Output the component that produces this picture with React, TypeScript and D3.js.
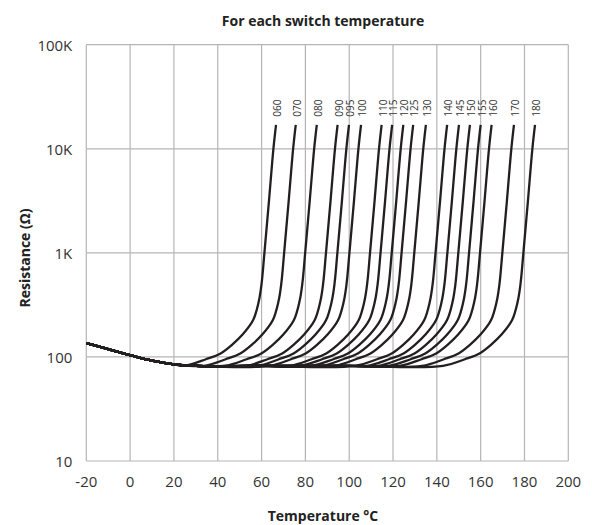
import { useEffect, useRef } from 'react';
import * as d3 from 'd3';

const WIDTH = 592;
const HEIGHT = 525;
const MARGIN = { top: 44.7, right: 23.7, bottom: 64, left: 86.3 };

// switch temperature labels and the temperature at the top end of each curve
const SWITCH_LABELS = ['060', '070', '080', '090', '095', '100', '110', '115', '120', '125', '130', '140', '145', '150', '155', '160', '170', '180'];
const TOP_TEMPS = [66.6, 75.6, 85.2, 94.7, 99.9, 105.4, 114.8, 119.6, 124.7, 129.2, 135.0, 144.7, 150.1, 155.1, 160.0, 165.0, 175.2, 184.8];

// common low-temperature part (temperature, ohm)
const BASE_T = [-20, -10, 0, 10, 20, 30, 60, 100, 140, 180];
const BASE_R = [136, 119, 104, 92, 85, 82, 82, 82, 82, 82];

// rise of each curve, measured back from its top end (deg offset, ohm)
const RISE_DT = [-42, -32, -25.3, -19.5, -15.5, -10.5, -7.9, -6.6, -5.3, -3.2, -1.2, 0];
const RISE_R = [82, 95, 108, 134, 162, 225, 340, 505, 1000, 3200, 10000, 17000];

const X_TICKS = [-20, 0, 20, 40, 60, 80, 100, 120, 140, 160, 180, 200];
const Y_TICKS = [10, 100, 1000, 10000, 100000];
const Y_TICK_LABELS = ['10', '100', '1K', '10K', '100K'];

const FONT = '"Open Sans", "Noto Sans", sans-serif';

export default function App() {
  const svgRef = useRef<SVGSVGElement>(null);
  const boundsWidth = WIDTH - MARGIN.left - MARGIN.right;
  const boundsHeight = HEIGHT - MARGIN.top - MARGIN.bottom;

  useEffect(() => {
    if (!svgRef.current) return;
    const svg = d3.select(svgRef.current);
    svg.selectAll('*').remove();

    const xScale = d3.scaleLinear().domain([-20, 200]).range([0, boundsWidth]);
    const yScale = d3.scaleLog().domain([10, 100000]).range([boundsHeight, 0]);

    const g = svg.append('g').attr('transform', `translate(${MARGIN.left}, ${MARGIN.top})`);

    // grid
    g.selectAll('.vgrid')
      .data(X_TICKS)
      .join('line')
      .attr('x1', d => xScale(d))
      .attr('x2', d => xScale(d))
      .attr('y1', 0)
      .attr('y2', boundsHeight)
      .attr('stroke', '#b5b5b5')
      .attr('stroke-width', 1.2);

    g.selectAll('.hgrid')
      .data(Y_TICKS)
      .join('line')
      .attr('x1', 0)
      .attr('x2', boundsWidth)
      .attr('y1', d => yScale(d))
      .attr('y2', d => yScale(d))
      .attr('stroke', '#b5b5b5')
      .attr('stroke-width', 1.2);

    // curves
    const line = d3
      .line<[number, number]>()
      .x(d => xScale(d[0]))
      .y(d => yScale(d[1]))
      .curve(d3.curveCatmullRom.alpha(0.5));

    const curves = TOP_TEMPS.map(top => {
      const start = top + RISE_DT[0];
      const base: [number, number][] = BASE_T.map((t, i) => [t, BASE_R[i]] as [number, number]).filter(
        d => d[0] < start - 4
      );
      const rise: [number, number][] = RISE_DT.map((dt, i) => [top + dt, RISE_R[i]] as [number, number]);
      return [...base, ...rise];
    });

    g.selectAll('.curve')
      .data(curves)
      .join('path')
      .attr('d', d => line(d))
      .attr('fill', 'none')
      .attr('stroke', '#231f20')
      .attr('stroke-width', 2.3);

    // curve labels
    g.selectAll('.curve-label')
      .data(SWITCH_LABELS)
      .join('text')
      .attr('transform', (d, i) => `translate(${xScale(TOP_TEMPS[i]) + 1}, ${yScale(RISE_R[RISE_R.length - 1]) - 8}) rotate(-90)`)
      .attr('dominant-baseline', 'central')
      .attr('text-anchor', 'start')
      .style('font-family', FONT)
      .style('font-size', '10px')
      .style('fill', '#333')
      .text(d => d);

    // tick labels
    g.selectAll('.x-label')
      .data(X_TICKS)
      .join('text')
      .attr('x', d => xScale(d))
      .attr('y', boundsHeight + 20)
      .attr('text-anchor', 'middle')
      .attr('dominant-baseline', 'central')
      .style('font-family', FONT)
      .style('font-size', '15px')
      .style('fill', '#333')
      .text(d => d);

    g.selectAll('.y-label')
      .data(Y_TICKS)
      .join('text')
      .attr('x', -14)
      .attr('y', d => yScale(d))
      .attr('text-anchor', 'end')
      .attr('dominant-baseline', 'central')
      .style('font-family', FONT)
      .style('font-size', '15px')
      .style('fill', '#333')
      .text((d, i) => Y_TICK_LABELS[i]);

    // titles
    svg
      .append('text')
      .attr('x', 323)
      .attr('y', 20)
      .attr('text-anchor', 'middle')
      .attr('dominant-baseline', 'central')
      .style('font-family', FONT)
      .style('font-size', '14px')
      .style('font-weight', '700')
      .style('fill', '#222')
      .text('For each switch temperature');

    svg
      .append('text')
      .attr('x', 323)
      .attr('y', 515)
      .attr('text-anchor', 'middle')
      .attr('dominant-baseline', 'central')
      .style('font-family', FONT)
      .style('font-size', '14px')
      .style('font-weight', '700')
      .style('fill', '#222')
      .text('Temperature °C');

    svg
      .append('text')
      .attr('transform', 'translate(24, 258) rotate(-90)')
      .attr('text-anchor', 'middle')
      .attr('dominant-baseline', 'central')
      .style('font-family', FONT)
      .style('font-size', '14px')
      .style('font-weight', '700')
      .style('fill', '#222')
      .text('Resistance (Ω)');
  }, [boundsWidth, boundsHeight]);

  return (
    <svg
      ref={svgRef}
      width={WIDTH}
      height={HEIGHT}
      style={{ position: 'absolute', left: 0, top: 0, background: '#fff' }}
    />
  );
}
